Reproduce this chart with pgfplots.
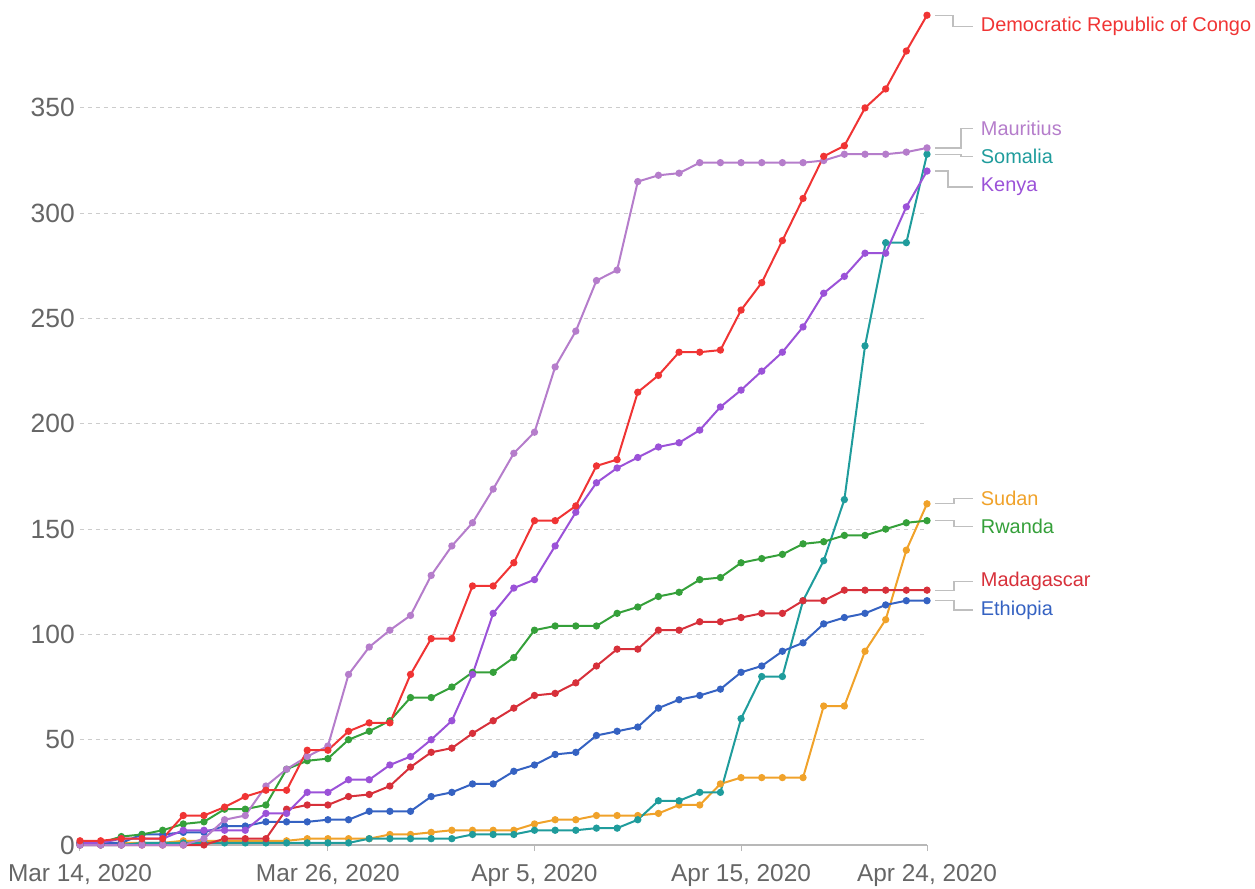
\documentclass[border=0pt]{standalone}
\usepackage{fontspec}
\setmainfont{Liberation Sans}
\usepackage{pgfplots}
\usepackage{pgfplotstable}
\pgfplotsset{compat=1.18}
\usetikzlibrary{calc}

\definecolor{cdrc}{RGB}{240,52,52}
\definecolor{cmau}{RGB}{181,125,203}
\definecolor{csom}{RGB}{31,156,156}
\definecolor{cken}{RGB}{155,82,216}
\definecolor{csud}{RGB}{240,162,42}
\definecolor{crwa}{RGB}{53,160,58}
\definecolor{cmad}{RGB}{215,48,58}
\definecolor{ceth}{RGB}{53,98,194}

\pgfplotstableread{
d drc mau som ken sud rwa mad eth
0 2 0 0 1 1 1 0 1
1 2 0 0 1 1 1 0 1
2 3 0 0 3 1 4 0 1
3 3 0 1 3 1 5 0 5
4 3 0 1 3 1 7 0 5
5 14 0 1 7 2 10 0 6
6 14 3 1 7 2 11 0 6
7 18 12 1 7 2 17 3 9
8 23 14 1 7 2 17 3 9
9 26 28 1 15 2 19 3 11
10 26 36 1 15 2 36 17 11
11 45 42 1 25 3 40 19 11
12 45 47 1 25 3 41 19 12
13 54 81 1 31 3 50 23 12
14 58 94 3 31 3 54 24 16
15 58 102 3 38 5 59 28 16
16 81 109 3 42 5 70 37 16
17 98 128 3 50 6 70 44 23
18 98 142 3 59 7 75 46 25
19 123 153 5 81 7 82 53 29
20 123 169 5 110 7 82 59 29
21 134 186 5 122 7 89 65 35
22 154 196 7 126 10 102 71 38
23 154 227 7 142 12 104 72 43
24 161 244 7 158 12 104 77 44
25 180 268 8 172 14 104 85 52
26 183 273 8 179 14 110 93 54
27 215 315 12 184 14 113 93 56
28 223 318 21 189 15 118 102 65
29 234 319 21 191 19 120 102 69
30 234 324 25 197 19 126 106 71
31 235 324 25 208 29 127 106 74
32 254 324 60 216 32 134 108 82
33 267 324 80 225 32 136 110 85
34 287 324 80 234 32 138 110 92
35 307 324 116 246 32 143 116 96
36 327 325 135 262 66 144 116 105
37 332 328 164 270 66 147 121 108
38 350 328 237 281 92 147 121 110
39 359 328 286 281 107 150 121 114
40 377 329 286 303 140 153 121 116
41 394 331 328 320 162 154 121 116
}\data

\begin{document}
\begin{tikzpicture}
\begin{axis}[
  name=ax,
  scale only axis, width=847bp, height=842.4bp,
  xmin=0, xmax=41, ymin=0, ymax=400,
  enlargelimits=false, clip=false,
  axis lines*=left,
  x axis line style={draw=black!28, line width=1.2bp},
  y axis line style={draw=none},
  xtick={0,12,22,32,41},
  xticklabels={{Mar 14, 2020},{Mar 26, 2020},{Apr 5, 2020},{Apr 15, 2020},{Apr 24, 2020}},
  ytick={0,50,...,350},
  tick align=outside,
  major tick length=6bp,
  xtick style={draw=black!28, line width=1bp},
  ytick style={draw=none},
  ymajorgrids,
  grid style={draw=black!20, line width=1bp, dash pattern=on 4bp off 4bp},
  ticklabel style={text=black!60},
  xticklabel style={font=\fontsize{24.5}{28}\selectfont, inner sep=0pt, yshift=-13bp},
  yticklabel style={font=\fontsize{26.5}{30}\selectfont, inner sep=0pt, xshift=1bp},
  /pgf/number format/assume math mode=true,
  every axis plot/.append style={line width=2bp, mark=*, mark size=2.6bp, mark options={solid}},
]
\addplot[color=csud] table[x=d,y=sud]{\data};
\addplot[color=csom] table[x=d,y=som]{\data};
\addplot[color=ceth] table[x=d,y=eth]{\data};
\addplot[color=cmad] table[x=d,y=mad]{\data};
\addplot[color=crwa] table[x=d,y=rwa]{\data};
\addplot[color=cken] table[x=d,y=ken]{\data};
\addplot[color=cmau] table[x=d,y=mau]{\data};
\addplot[color=cdrc] table[x=d,y=drc]{\data};

\tikzset{conn/.style={draw=black!25, line width=1.3bp}}
\draw[conn] (axis cs:41.39,394) -- (axis cs:42.26,394) |- (axis cs:43.23,388.5);
\draw[conn] (axis cs:41.39,331) -- (axis cs:42.64,331) |- (axis cs:43.23,340.3);
\draw[conn] (axis cs:41.39,328) -- (axis cs:42.64,328) |- (axis cs:43.23,326.8);
\draw[conn] (axis cs:41.39,320) -- (axis cs:42.02,320) |- (axis cs:43.23,312.5);
\draw[conn] (axis cs:41.39,162) -- (axis cs:42.31,162) |- (axis cs:43.23,164.6);
\draw[conn] (axis cs:41.39,154) -- (axis cs:42.31,154) |- (axis cs:43.23,151.1);
\draw[conn] (axis cs:41.39,121) -- (axis cs:42.31,121) |- (axis cs:43.23,125.1);
\draw[conn] (axis cs:41.39,116) -- (axis cs:42.31,116) |- (axis cs:43.23,111.6);

\tikzset{lab/.style={anchor=west, inner sep=0pt, font=\fontsize{20}{24}\selectfont}}
\node[lab, text=cdrc] at (axis cs:43.6,388.5) {Democratic Republic of Congo};
\node[lab, text=cmau] at (axis cs:43.6,340.3) {Mauritius};
\node[lab, text=csom] at (axis cs:43.6,326.8) {Somalia};
\node[lab, text=cken] at (axis cs:43.6,312.5) {Kenya};
\node[lab, text=csud] at (axis cs:43.6,164.6) {Sudan};
\node[lab, text=crwa] at (axis cs:43.6,151.1) {Rwanda};
\node[lab, text=cmad] at (axis cs:43.6,125.1) {Madagascar};
\node[lab, text=ceth] at (axis cs:43.6,111.6) {Ethiopia};
\end{axis}
\pgfresetboundingbox
\path[use as bounding box] ($(ax.south west)+(-80bp,-44bp)$) rectangle ($(ax.south west)+(1175bp,845bp)$);
\end{tikzpicture}
\end{document}
